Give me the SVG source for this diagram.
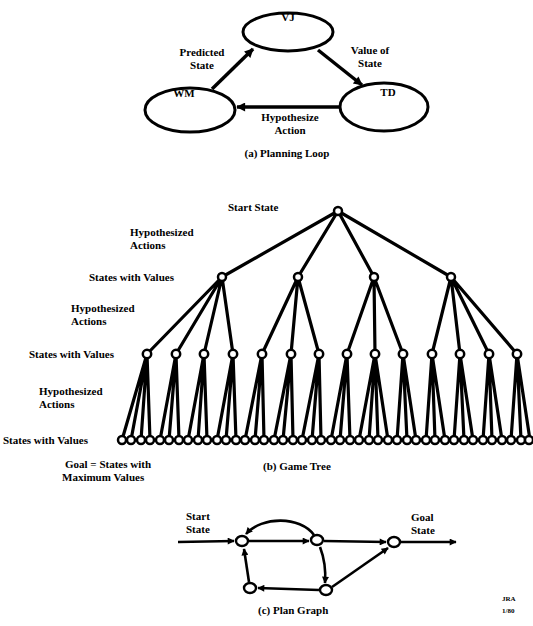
<svg xmlns="http://www.w3.org/2000/svg" width="533" height="626" viewBox="0 0 533 626">
<style>
text{font-family:"Liberation Serif","Times New Roman",serif;font-weight:bold;font-size:11px;fill:#000}
.m{text-anchor:middle}
.big{fill:none;stroke:#000;stroke-width:3}
.arr{fill:none;stroke:#000;stroke-width:3.5}
.te{stroke:#000;stroke-width:3.2;fill:none;stroke-linecap:round}
.tn{fill:#fff;stroke:#000;stroke-width:2.5}
.pe{fill:none;stroke:#000;stroke-width:2.6}
.pn{fill:#fff;stroke:#000;stroke-width:2.4}
</style>
<defs>
<marker id="ah" viewBox="0 0 10 10" refX="9" refY="5" markerWidth="11" markerHeight="9" markerUnits="userSpaceOnUse" orient="auto">
<path d="M0,0 L10,5 L0,10 Z" fill="#000"/>
</marker>
<marker id="ahs" viewBox="0 0 10 10" refX="9" refY="5" markerWidth="9" markerHeight="7" markerUnits="userSpaceOnUse" orient="auto">
<path d="M0,0 L10,5 L0,10 Z" fill="#000"/>
</marker>
</defs>

<!-- (a) Planning Loop -->
<g id="connectors-a">
<line class="arr" x1="212" y1="89" x2="253" y2="49" marker-end="url(#ah)"/>
<line class="arr" x1="318" y1="50" x2="362" y2="85" marker-end="url(#ah)"/>
<line class="arr" x1="340" y1="107" x2="237" y2="107" marker-end="url(#ah)"/>
</g>
<g id="node-VJ">
<ellipse class="big" cx="288" cy="32" rx="45" ry="19" fill="#fff"/>
<text class="m" x="288" y="21">VJ</text>
</g>
<g id="node-WM">
<ellipse class="big" cx="190" cy="110" rx="45" ry="22" fill="#fff"/>
<text class="m" x="184" y="97">WM</text>
</g>
<g id="node-TD">
<ellipse class="big" cx="384" cy="107" rx="44" ry="24" fill="#fff"/>
<text class="m" x="388" y="96">TD</text>
</g>
<g id="labels-a">
<text class="m" x="202" y="56">Predicted</text>
<text class="m" x="202" y="69">State</text>
<text class="m" x="370" y="54">Value of</text>
<text class="m" x="370" y="67">State</text>
<text class="m" x="290" y="121">Hypothesize</text>
<text class="m" x="290" y="134">Action</text>
<text class="m" x="287" y="157">(a)  Planning Loop</text>
</g>

<!-- (b) Game Tree -->
<g id="connectors-b">
<path class="te" d="M338,211 L222,277 M338,211 L298,277 M338,211 L374,277 M338,211 L451,277"/>
<path class="te" d="M222,277 L147,354 M222,277 L176,354 M222,277 L204,354 M222,277 L233,354
M298,277 L262,354 M298,277 L291,354 M298,277 L319,354
M374,277 L347,354 M374,277 L375,354 M374,277 L403,354
M451,277 L432,354 M451,277 L460,354 M451,277 L489,354 M451,277 L517,354"/>
<path class="te" d="M147,354 L122,440 M147,354 L131,440 M147,354 L141,440 M147,354 L150,440
M176,354 L160,440 M176,354 L169,440 M176,354 L179,440
M204,354 L188,440 M204,354 L198,440 M204,354 L207,440
M233,354 L217,440 M233,354 L226,440 M233,354 L236,440
M262,354 L245,440 M262,354 L255,440 M262,354 L264,440
M291,354 L274,440 M291,354 L283,440 M291,354 L293,440
M319,354 L302,440 M319,354 L312,440 M319,354 L321,440
M347,354 L331,440 M347,354 L340,440 M347,354 L350,440
M375,354 L359,440 M375,354 L369,440 M375,354 L378,440 M375,354 L388,440
M403,354 L397,440 M403,354 L407,440 M403,354 L416,440
M432,354 L426,440 M432,354 L435,440 M432,354 L445,440
M460,354 L454,440 M460,354 L464,440 M460,354 L473,440
M489,354 L483,440 M489,354 L492,440 M489,354 L502,440
M517,354 L511,440 M517,354 L521,440 M517,354 L530,440"/>
</g>
<g id="tree-nodes">
<g id="root"><circle class="tn" cx="338" cy="211" r="4"/></g>
<g id="level1">
<circle class="tn" cx="222" cy="277" r="4"/><circle class="tn" cx="298" cy="277" r="4"/>
<circle class="tn" cx="374" cy="277" r="4"/><circle class="tn" cx="451" cy="277" r="4"/>
</g>
<g id="level2">
<circle class="tn" cx="147" cy="354" r="4.2"/><circle class="tn" cx="176" cy="354" r="4.2"/>
<circle class="tn" cx="204" cy="354" r="4.2"/><circle class="tn" cx="233" cy="354" r="4.2"/>
<circle class="tn" cx="262" cy="354" r="4.2"/><circle class="tn" cx="291" cy="354" r="4.2"/>
<circle class="tn" cx="319" cy="354" r="4.2"/><circle class="tn" cx="347" cy="354" r="4.2"/>
<circle class="tn" cx="375" cy="354" r="4.2"/><circle class="tn" cx="403" cy="354" r="4.2"/>
<circle class="tn" cx="432" cy="354" r="4.2"/><circle class="tn" cx="460" cy="354" r="4.2"/>
<circle class="tn" cx="489" cy="354" r="4.2"/><circle class="tn" cx="517" cy="354" r="4.2"/>
</g>
<g id="leaves">
<circle class="tn" cx="122" cy="440" r="4"/><circle class="tn" cx="131" cy="440" r="4"/><circle class="tn" cx="141" cy="440" r="4"/><circle class="tn" cx="150" cy="440" r="4"/>
<circle class="tn" cx="160" cy="440" r="4"/><circle class="tn" cx="169" cy="440" r="4"/><circle class="tn" cx="179" cy="440" r="4"/>
<circle class="tn" cx="188" cy="440" r="4"/><circle class="tn" cx="198" cy="440" r="4"/><circle class="tn" cx="207" cy="440" r="4"/>
<circle class="tn" cx="217" cy="440" r="4"/><circle class="tn" cx="226" cy="440" r="4"/><circle class="tn" cx="236" cy="440" r="4"/>
<circle class="tn" cx="245" cy="440" r="4"/><circle class="tn" cx="255" cy="440" r="4"/><circle class="tn" cx="264" cy="440" r="4"/>
<circle class="tn" cx="274" cy="440" r="4"/><circle class="tn" cx="283" cy="440" r="4"/><circle class="tn" cx="293" cy="440" r="4"/>
<circle class="tn" cx="302" cy="440" r="4"/><circle class="tn" cx="312" cy="440" r="4"/><circle class="tn" cx="321" cy="440" r="4"/>
<circle class="tn" cx="331" cy="440" r="4"/><circle class="tn" cx="340" cy="440" r="4"/><circle class="tn" cx="350" cy="440" r="4"/>
<circle class="tn" cx="359" cy="440" r="4"/><circle class="tn" cx="369" cy="440" r="4"/><circle class="tn" cx="378" cy="440" r="4"/><circle class="tn" cx="388" cy="440" r="4"/>
<circle class="tn" cx="397" cy="440" r="4"/><circle class="tn" cx="407" cy="440" r="4"/><circle class="tn" cx="416" cy="440" r="4"/>
<circle class="tn" cx="426" cy="440" r="4"/><circle class="tn" cx="435" cy="440" r="4"/><circle class="tn" cx="445" cy="440" r="4"/>
<circle class="tn" cx="454" cy="440" r="4"/><circle class="tn" cx="464" cy="440" r="4"/><circle class="tn" cx="473" cy="440" r="4"/>
<circle class="tn" cx="483" cy="440" r="4"/><circle class="tn" cx="492" cy="440" r="4"/><circle class="tn" cx="502" cy="440" r="4"/>
<circle class="tn" cx="511" cy="440" r="4"/><circle class="tn" cx="521" cy="440" r="4"/><circle class="tn" cx="529" cy="440" r="4"/>
</g>
</g>
<g id="labels-b">
<text x="228" y="211">Start State</text>
<text x="130" y="236">Hypothesized</text>
<text x="130" y="249">Actions</text>
<text x="89" y="281">States with Values</text>
<text x="71" y="312">Hypothesized</text>
<text x="71" y="325">Actions</text>
<text x="29" y="358">States with Values</text>
<text x="39" y="395">Hypothesized</text>
<text x="39" y="408">Actions</text>
<text x="3" y="444">States with Values</text>
<text x="65" y="468">Goal = States with</text>
<text x="62" y="481">Maximum Values</text>
<text x="263" y="470">(b)  Game Tree</text>
</g>

<!-- (c) Plan Graph -->
<g id="connectors-c">
<line class="pe" x1="178" y1="542" x2="234" y2="541" marker-end="url(#ahs)"/>
<line class="pe" x1="249" y1="541" x2="309" y2="541" marker-end="url(#ahs)"/>
<line class="pe" x1="324" y1="541" x2="386" y2="542" marker-end="url(#ahs)"/>
<line class="pe" x1="401" y1="542" x2="456" y2="542" marker-end="url(#ahs)"/>
<path class="pe" d="M314,535 C300,516 262,516 246,534" marker-end="url(#ahs)"/>
<path class="pe" d="M320,547 C325,560 326,570 325,583" marker-end="url(#ahs)"/>
<line class="pe" x1="319" y1="590" x2="258" y2="588" marker-end="url(#ahs)"/>
<line class="pe" x1="249" y1="582" x2="244" y2="549" marker-end="url(#ahs)"/>
<line class="pe" x1="332" y1="587" x2="388" y2="548" marker-end="url(#ahs)"/>
</g>
<g id="plan-node-A"><ellipse class="pn" cx="242" cy="541" rx="6" ry="5"/></g>
<g id="plan-node-B"><ellipse class="pn" cx="317" cy="540" rx="6" ry="5"/></g>
<g id="plan-node-Goal"><ellipse class="pn" cx="394" cy="542" rx="6" ry="5"/></g>
<g id="plan-node-D"><ellipse class="pn" cx="250" cy="588" rx="6" ry="5"/></g>
<g id="plan-node-E"><ellipse class="pn" cx="326" cy="590" rx="6" ry="5"/></g>
<g id="labels-c">
<text x="186" y="520">Start</text>
<text x="186" y="533">State</text>
<text x="411" y="521">Goal</text>
<text x="411" y="534">State</text>
<text x="258" y="614">(c)  Plan Graph</text>
<text x="502" y="601" style="font-size:7px">JRA</text>
<text x="502" y="613" style="font-size:7px">1/80</text>
</g>
</svg>
